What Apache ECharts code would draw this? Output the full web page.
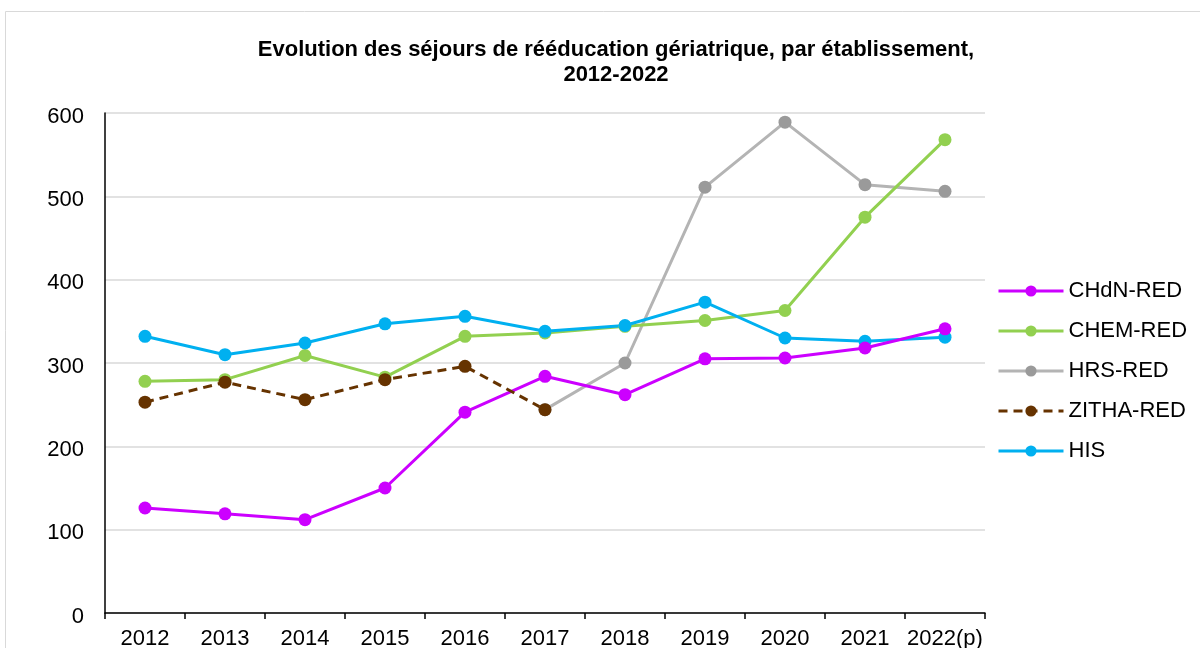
<!DOCTYPE html>
<html>
<head>
<meta charset="utf-8">
<script src="https://cdn.jsdelivr.net/npm/echarts@6/dist/echarts.min.js"></script>
<style>
    html, body { margin: 0; padding: 0; background: #fff; }
    #chart { width: 1200px; height: 648px; }
</style>
</head>
<body>
<div id="chart"></div>
<script>
// 数据
var years = ['2012', '2013', '2014', '2015', '2016', '2017', '2018', '2019', '2020', '2021', '2022(p)'];
var chdn = [126, 119, 112, 150, 241, 284, 262, 305, 306, 318, 341];
var chem = [278, 280, 309, 283, 332, 336, 344, 351, 363, 475, 568];
var hrs = [null, null, null, null, null, 244, 300, 511, 589, 514, 506];
var zitha = [253, 277, 256, 280, 296, 244, null, null, null, null, null];
var his = [332, 310, 324, 347, 356, 338, 345, 373, 330, 326, 331];
var yTicks = [0, 100, 200, 300, 400, 500, 600];

(function () {
    var myChart = echarts.init(document.getElementById('chart'));
    var font = 'Liberation Sans, Arial, sans-serif';

    function line(name, data, color, markerColor, dashed) {
        return {
            name: name,
            type: 'line',
            data: data,
            symbol: 'circle',
            symbolSize: 13,
            connectNulls: false,
            itemStyle: { color: markerColor || color },
            lineStyle: { color: color, width: 3, type: dashed ? [9, 6] : 'solid' },
            emphasis: { disabled: true }
        };
    }

    var option = {
        animation: false,
        textStyle: { fontFamily: font },
        title: {
            text: 'Evolution des séjours de rééducation gériatrique, par établissement,\n2012-2022',
            left: 611,
            top: 32,
            textAlign: 'center',
            textStyle: { fontSize: 22, fontWeight: 'bold', color: '#000', lineHeight: 25, fontFamily: font }
        },
        // 外框
        graphic: [{
            type: 'rect',
            shape: { x: 5.5, y: 11.5, width: 1300, height: 800 },
            style: { fill: 'none', stroke: '#d9d9d9', lineWidth: 1 },
            silent: true
        }],
        legend: {
            orient: 'vertical',
            left: 997,
            top: 280,
            padding: 0,
            itemWidth: 65,
            itemHeight: 14,
            itemGap: 18,
            lineStyle: { width: 3 },
            textStyle: { fontSize: 22, color: '#000', fontFamily: font },
            data: ['CHdN-RED', 'CHEM-RED', 'HRS-RED', 'ZITHA-RED', 'HIS']
        },
        grid: { left: 105, right: 215, top: 113, bottom: 35, containLabel: false, outerBoundsMode: 'none' },
        xAxis: {
            type: 'category',
            data: years,
            boundaryGap: true,
            axisLine: { lineStyle: { color: '#000', width: 1.5 } },
            axisTick: { show: true, length: 6, lineStyle: { color: '#000', width: 1.5 } },
            axisLabel: { fontSize: 22, color: '#000', margin: 15, interval: 0, fontFamily: font },
            splitLine: { show: false }
        },
        yAxis: {
            type: 'value',
            min: yTicks[0],
            max: yTicks[yTicks.length - 1],
            interval: 100,
            axisLine: { show: true, lineStyle: { color: '#000', width: 1.5 } },
            axisTick: { show: false },
            axisLabel: {
                color: '#000',
                margin: 21,
                formatter: '{v|{value}}',
                rich: { v: { fontSize: 22, color: '#000', fontFamily: font, padding: [7, 0, 0, 0] } }
            },
            splitLine: { lineStyle: { color: '#d9d9d9', width: 1.5 } }
        },
        series: [
            line('HRS-RED', hrs, '#b4b4b4', '#9a9a9a'),
            line('CHEM-RED', chem, '#92d050'),
            line('HIS', his, '#00b0f0'),
            line('CHdN-RED', chdn, '#cc00ff'),
            line('ZITHA-RED', zitha, '#663300', null, true)
        ]
    };

    myChart.setOption(option);
    window.addEventListener('resize', function () {
        myChart.resize();
    });
})();
</script>
</body>
</html>
